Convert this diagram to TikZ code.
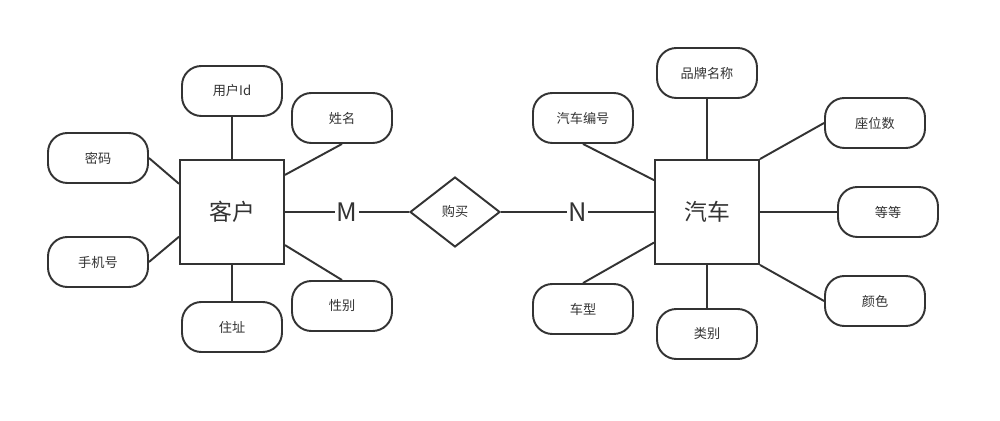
\documentclass[tikz,border=0pt]{standalone}
\usepackage{fontspec}
\setmainfont{Noto Sans CJK SC}
\usetikzlibrary{shapes.geometric}
\definecolor{erline}{HTML}{333333}
\begin{document}
\begin{tikzpicture}[x=0.02cm,y=-0.02cm,line width=1.1pt,color=erline,
		entity/.style={draw,minimum width=2.08cm,minimum height=2.08cm,inner sep=0pt,font=\fontsize{13}{15}\selectfont},
		attr/.style={draw,rounded corners=11pt,minimum width=2cm,minimum height=1cm,inner sep=0pt,font=\fontsize{7.5}{9}\selectfont},
		rel/.style={draw,diamond,minimum width=1.8cm,minimum height=1.4cm,inner sep=0pt,font=\fontsize{7.5}{9}\selectfont},
		card/.style={fill=white,inner sep=1pt,font=\fontsize{14.5}{16}\selectfont}]
		\useasboundingbox[fill=white] (0,0) rectangle (1000,421);
		% entities and relation
		\node[entity] (kehu) at (232,212) {客户};
		\node[entity] (qiche) at (707,212) {汽车};
		\node[rel] (goumai) at (455,212) {购买};
		% attributes of kehu
		\node[attr] (yonghuid) at (232,91) {用户Id};
		\node[attr] (xingming) at (342,118) {姓名};
		\node[attr] (mima) at (98,158) {密码};
		\node[attr] (shouji) at (98,262) {手机号};
		\node[attr] (zhuzhi) at (232,327) {住址};
		\node[attr] (xingbie) at (342,306) {性别};
		% attributes of qiche
		\node[attr] (bianhao) at (583,118) {汽车编号};
		\node[attr] (pinpai) at (707,73) {品牌名称};
		\node[attr] (zuowei) at (875,123) {座位数};
		\node[attr] (dengdeng) at (888,212) {等等};
		\node[attr] (yanse) at (875,301) {颜色};
		\node[attr] (chexing) at (583,309) {车型};
		\node[attr] (leibie) at (707,334) {类别};
		% connectors
		\draw (kehu.north) -- (yonghuid.south);
		\draw (kehu.35) -- (xingming.south);
		\draw (kehu.152) -- (mima.east);
		\draw (kehu.205) -- (shouji.east);
		\draw (kehu.south) -- (zhuzhi.north);
		\draw (kehu.-32) -- (xingbie.north);
		\draw (qiche.149) -- (bianhao.south);
		\draw (qiche.north) -- (pinpai.south);
		\draw (qiche.north east) -- (zuowei.west);
		\draw (qiche.east) -- (dengdeng.west);
		\draw (qiche.south east) -- (yanse.west);
		\draw (qiche.210) -- (chexing.north);
		\draw (qiche.south) -- (leibie.north);
		\draw (kehu.east) -- node[card] {M} (goumai.west);
		\draw (goumai.east) -- node[card] {N} (qiche.west);
	\end{tikzpicture}
\end{document}
